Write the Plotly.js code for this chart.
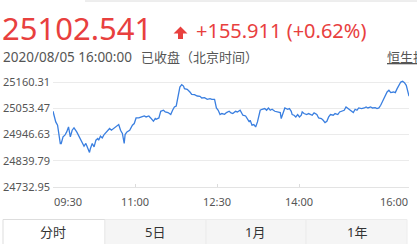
<!DOCTYPE html>
<html><head><meta charset="utf-8">
<script src="https://cdn.plot.ly/plotly-3.0.1.min.js"></script>
<style>html,body{margin:0;padding:0;background:#fff;overflow:hidden}#chart{width:417px;height:244px}</style>
</head><body><div id="chart"></div>
<script>
// ---- data ----
const lastPrice = "25102.541";
const changeText = "+155.911 (+0.62%)";
const dateText = "2020/08/05 16:00:00";
const statusText = "已收盘（北京时间）";
const indexName = "恒生指数";
const prevClose = 24946.63;
const yTicks = [24732.95, 24839.79, 24946.63, 25053.47, 25160.31];
const tickMinutes = [0, 90, 180, 270, 390];
const tickLabels = ["09:30", "11:00", "12:30", "14:00", "16:00"];
const tabLabels = ["分时", "5日", "1月", "1年"];
// minutes after 09:30
const minutes = [
0,3,5,6,8,9,11,13,15,17,
19,21,23,26,28,31,34,36,38,40,
41,43,45,47,49,50,52,54,56,59,
62,64,67,70,72,74,76,78,79,81,
84,87,89,91,94,97,100,102,105,107,
110,112,113,116,118,121,123,126,129,131,
133,135,137,139,141,143,144,147,150,152,
155,158,161,163,166,169,172,174,177,179,
181,183,185,188,190,193,195,197,200,202,
205,206,208,211,213,215,216,218,220,222,
224,226,227,229,232,234,236,238,240,243,
246,249,250,252,254,257,259,261,262,264,
266,268,270,272,273,275,278,280,282,284,
286,289,291,294,296,298,300,302,304,307,
309,312,314,317,319,321,323,325,327,329,
331,333,335,338,341,343,345,348,350,353,
355,357,359,361,363,365,366,368,370,373,
375,377,379,381,383,385,387,388,390];
const prices = [
25041.2,24997.8,24984.4,24957.2,24910.1,24910.1,24936.9,24943.8,24957.2,24977.5,
24936.9,24964.1,24973.4,24957.2,24943.8,24923.5,24899.1,24910.1,24889.8,24873.5,
24889.8,24910.1,24896.3,24923.5,24930.4,24923.5,24939.7,24932.8,24946.6,24957.2,
24971.0,24964.1,24973.4,24981.5,24987.2,24964.1,24950.7,24910.1,24946.6,24957.2,
24964.1,24984.4,24991.3,25014.0,25014.0,25018.1,25022.1,25018.1,25022.1,25014.0,
25000.6,25011.6,25008.7,25014.0,25041.2,25045.3,25038.4,25035.9,25027.8,25045.3,
25058.7,25062.7,25106.2,25139.9,25149.6,25143.9,25133.4,25130.5,25119.6,25110.2,
25109.0,25103.3,25102.1,25095.2,25096.8,25089.9,25092.8,25089.9,25089.9,25054.6,
25045.3,25027.8,25031.9,25029.0,25035.9,25041.2,25034.3,25031.9,25041.2,25038.4,
25045.3,25035.9,25025.0,25022.1,25011.6,24997.8,25004.7,24984.4,24987.2,24977.5,
24997.8,25025.0,25045.3,25049.3,25052.2,25045.3,25054.6,25045.3,25049.3,25041.2,
25038.4,25035.9,25011.6,25031.9,25054.6,25049.3,25052.2,25041.2,25027.8,25025.0,
25018.1,25027.8,25018.1,25025.0,25038.4,25031.9,25027.8,25031.9,25027.8,25025.0,
25034.3,25027.8,25014.0,25011.6,25004.7,24995.3,25000.6,25018.1,25027.8,25025.0,
25031.9,25027.8,25038.4,25041.2,25045.3,25058.7,25052.2,25049.3,25041.2,25035.9,
25049.3,25045.3,25054.6,25052.2,25054.6,25058.7,25054.6,25058.7,25054.6,25056.2,
25052.2,25054.6,25065.6,25081.8,25092.8,25109.0,25119.6,25126.5,25117.1,25119.6,
25117.1,25133.4,25149.6,25160.2,25163.0,25157.7,25146.8,25133.4,25102.5];

// ---- layout helpers (pixel -> paper) ----
const W = 417, H = 244, L = 53, R = 8, T = 78, B = 57;
const pw = W - L - R, ph = H - T - B;
const px = x => (x - L) / pw;
const py = y => (H - B - y) / ph;
const FONT = "Noto Sans, Noto Sans CJK SC, sans-serif";
const RED = "#e8403e";

const annotations = [];
function txt(text, x, y, size, color, anchor) {
  annotations.push({text: text, xref: "paper", yref: "paper", x: px(x), y: py(y),
    xanchor: anchor || "left", yanchor: "middle", showarrow: false, borderpad: 0,
    font: {family: FONT, size: size, color: color}});
}
txt(lastPrice, 1, 28, 31, RED);
txt(changeText, 195, 31, 20, RED);
txt(dateText, 2, 57.5, 13.5, "#555");
txt(statusText, 140, 57.5, 13, "#555");
txt("<span style='text-decoration:underline'>" + indexName + "</span>", 386, 57.5, 13, "#555");

tickMinutes.forEach((m, i) => {
  annotations.push({text: tickLabels[i], xref: "x", yref: "paper", x: m, y: py(201),
    xanchor: i === 0 ? "left" : (i === tickMinutes.length - 1 ? "right" : "center"),
    yanchor: "middle", showarrow: false, borderpad: 0,
    font: {family: FONT, size: 11, color: "#555"}});
});

// up-arrow icon
const arrowPts = [[180.5, 26.5], [187.5, 33.5], [183, 33.5], [183, 39], [178, 39], [178, 33.5], [173.5, 33.5]];
const arrowPath = "M" + arrowPts.map(p => px(p[0]) + "," + py(p[1])).join(" L") + " Z";

const shapes = [
  {type: "line", xref: "paper", yref: "paper", x0: px(85), x1: px(420), y0: py(1), y1: py(1),
   line: {color: "#dcdcdc", width: 1}},
  {type: "line", xref: "paper", yref: "y", x0: 0, x1: 1, y0: prevClose, y1: prevClose,
   line: {color: "#5cb05c", width: 1}, layer: "below"},
  {type: "path", xref: "paper", yref: "paper", path: arrowPath, fillcolor: RED, line: {width: 0}}
];
const tabEdges = [3, 105, 206, 306, 407];
const tabCenters = [53, 155, 255, 357];
tabLabels.forEach((t, i) => {
  shapes.push({type: "rect", xref: "paper", yref: "paper", x0: px(tabEdges[i]), x1: px(tabEdges[i + 1]),
    y0: py(250), y1: py(219.5), fillcolor: i === 0 ? "#ffffff" : "#f5f5f5",
    line: {color: i === 0 ? "#dddddd" : "#ececec", width: 1}});
  txt(t, tabCenters[i], 232, 13, "#333", "center");
});

const data = [{
  x: minutes, y: prices, type: "scatter", mode: "lines",
  line: {color: "#3a7fe0", width: 1.3}, hoverinfo: "skip", cliponaxis: true
}];

const layout = {
  width: W, height: H, margin: {l: L, r: R, t: T, b: B, pad: 0},
  paper_bgcolor: "#fff", plot_bgcolor: "#fff", showlegend: false,
  font: {family: FONT, color: "#555"},
  xaxis: {range: [0, 390], tickvals: tickMinutes, ticktext: tickLabels, showticklabels: false,
    ticks: "inside", ticklen: 3, tickcolor: "#dcdcdc", showgrid: false, zeroline: false,
    showline: true, linecolor: "#e3e3e3", linewidth: 1, fixedrange: true},
  yaxis: {range: [24732.95, 25176.6], tickvals: yTicks, ticktext: yTicks.map(v => v.toFixed(2)),
    ticks: "", showgrid: true, gridcolor: "#ebebeb", gridwidth: 1, zeroline: false, showline: false,
    tickfont: {family: FONT, size: 11, color: "#555"}, ticklabelstandoff: 2, fixedrange: true},
  annotations: annotations, shapes: shapes
};
Plotly.newPlot("chart", data, layout, {displayModeBar: false, staticPlot: true});
</script></body></html>
